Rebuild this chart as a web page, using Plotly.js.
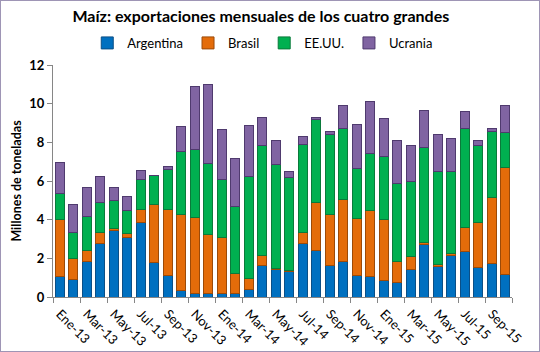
<!DOCTYPE html>
<html>
<head>
<meta charset="utf-8">
<script src="https://cdn.plot.ly/plotly-3.0.1.min.js"></script>
<style>
  html, body { margin: 0; padding: 0; background: #fff; }
  #chart { width: 540px; height: 352px; box-sizing: border-box; border: 1px solid #9e95b5; }
</style>
</head>
<body>
<div id="chart"></div>
<script>
// Categories (months, Spanish abbreviations)
const months = [
  "Ene-13","Feb-13","Mar-13","Abr-13","May-13","Jun-13","Jul-13","Ago-13","Sep-13","Oct-13","Nov-13","Dic-13",
  "Ene-14","Feb-14","Mar-14","Abr-14","May-14","Jun-14","Jul-14","Ago-14","Sep-14","Oct-14","Nov-14","Dic-14",
  "Ene-15","Feb-15","Mar-15","Abr-15","May-15","Jun-15","Jul-15","Ago-15","Sep-15","Oct-15"
];

// Series values (millones de toneladas)
const argentina = [1.07,0.88,1.83,2.79,3.43,3.07,3.86,1.78,1.09,0.33,0.19,0.17,
                   0.17,0.17,0.41,1.64,1.40,1.31,2.76,2.43,1.64,1.86,1.09,1.05,
                   0.84,0.76,1.40,2.69,1.59,2.14,2.33,1.55,1.71,1.14];
const brasil    = [2.96,1.09,0.57,0.57,0.12,0.24,0.69,3.03,3.46,3.96,3.90,3.04,
                   2.92,1.07,0.57,0.53,0.10,0.07,0.58,2.48,2.65,3.19,2.96,3.40,
                   3.19,1.10,0.69,0.14,0.07,0.12,1.29,2.28,3.46,5.57];
const eeuu      = [1.33,1.39,1.76,1.55,1.42,1.19,1.55,1.45,2.02,3.24,3.55,3.67,
                   3.00,3.42,5.23,5.69,5.33,4.79,4.57,4.25,4.11,3.69,2.62,2.98,
                   3.26,4.02,3.91,4.88,4.84,4.24,5.12,4.00,3.40,1.82];
const ucrania   = [1.62,1.45,1.48,1.31,0.70,0.72,0.42,0.05,0.19,1.31,3.27,4.09,
                   2.55,2.48,2.67,1.40,1.29,0.33,0.37,0.12,0.17,1.16,2.23,2.66,
                   1.92,2.24,1.86,1.96,1.93,1.69,0.88,0.29,0.15,1.37];

const seriesNames = ["Argentina","Brasil","EE.UU.","Ucrania"];
const yTicks = [0,2,4,6,8,10,12];

// Labels every other month, tick marks between label pairs
const labelIdx = months.map((m,i)=>i).filter(i => i % 2 === 0);
const labelText = labelIdx.map(i => months[i]);
const boundaryVals = labelIdx.map(i => i - 0.5).concat([months.length - 0.5]);

const xIdx = months.map((m,i)=>i);
const colors = ["#0070C0","#E46C0A","#00B050","#8064A2"];
const lineColors = ["#0b4f86","#9c4a08","#0a7a3a","#4f3a6e"];
const data = [argentina, brasil, eeuu, ucrania].map((vals, k) => ({
  type: "bar",
  name: seriesNames[k],
  x: xIdx,
  y: vals,
  marker: { color: colors[k], line: { color: lineColors[k], width: 1 } },
  hoverinfo: "name+y"
}));

const font = "Lato, Calibri, 'Open Sans', sans-serif";

const layout = {
  width: 538,
  height: 350,
  margin: { l: 52, r: 27, t: 64, b: 54 },
  paper_bgcolor: "#ffffff",
  plot_bgcolor: "#ffffff",
  barmode: "stack",
  bargap: 0.3,
  font: { family: font, color: "#000" },
  title: {
    text: "<b>Maíz: exportaciones mensuales de los cuatro grandes</b>",
    font: { family: font, size: 16, color: "#000" },
    x: 0.483, xanchor: "center",
    y: 0.955, yanchor: "middle"
  },
  showlegend: true,
  legend: {
    orientation: "h",
    traceorder: "normal",
    x: 0.457, xanchor: "center",
    y: 1.095, yanchor: "middle",
    font: { family: font, size: 13, color: "#000" },
    itemwidth: 30,
    bgcolor: "rgba(0,0,0,0)"
  },
  xaxis: {
    type: "linear",
    range: [-0.5, months.length - 0.5],
    tickmode: "array",
    tickvals: boundaryVals,
    ticktext: boundaryVals.map(() => ""),
    ticks: "outside",
    ticklen: 5,
    tickcolor: "#868686",
    showline: true,
    linecolor: "#868686",
    linewidth: 1,
    showgrid: false,
    zeroline: false,
    fixedrange: true
  },
  xaxis2: {
    overlaying: "x",
    matches: "x",
    type: "linear",
    range: [-0.5, months.length - 0.5],
    side: "bottom",
    tickmode: "array",
    tickvals: labelIdx,
    ticktext: labelText,
    tickangle: 45,
    ticks: "",
    ticklabelstandoff: 6,
    showline: false,
    showgrid: false,
    zeroline: false,
    tickfont: { family: font, size: 13, color: "#000" }
  },
  yaxis: {
    range: [0, 12],
    tickmode: "array",
    tickvals: yTicks,
    ticktext: yTicks.map(v => "<b>" + v + "</b>"),
    ticks: "outside",
    ticklen: 5,
    tickcolor: "#868686",
    showline: true,
    linecolor: "#868686",
    linewidth: 1,
    showgrid: false,
    zeroline: false,
    tickfont: { family: font, size: 13, color: "#000" },
    title: {
      text: "<b>Millones de toneladas</b>",
      font: { family: font, size: 12.5, color: "#000" },
      standoff: 4
    }
  }
};

// invisible trace to activate the label axis
data.push({ type: "scatter", x: [0], y: [0], xaxis: "x2", yaxis: "y", mode: "markers",
            marker: { opacity: 0 }, showlegend: false, hoverinfo: "skip" });

Plotly.newPlot("chart", data, layout, { displayModeBar: false, staticPlot: true });
</script>
</body>
</html>
